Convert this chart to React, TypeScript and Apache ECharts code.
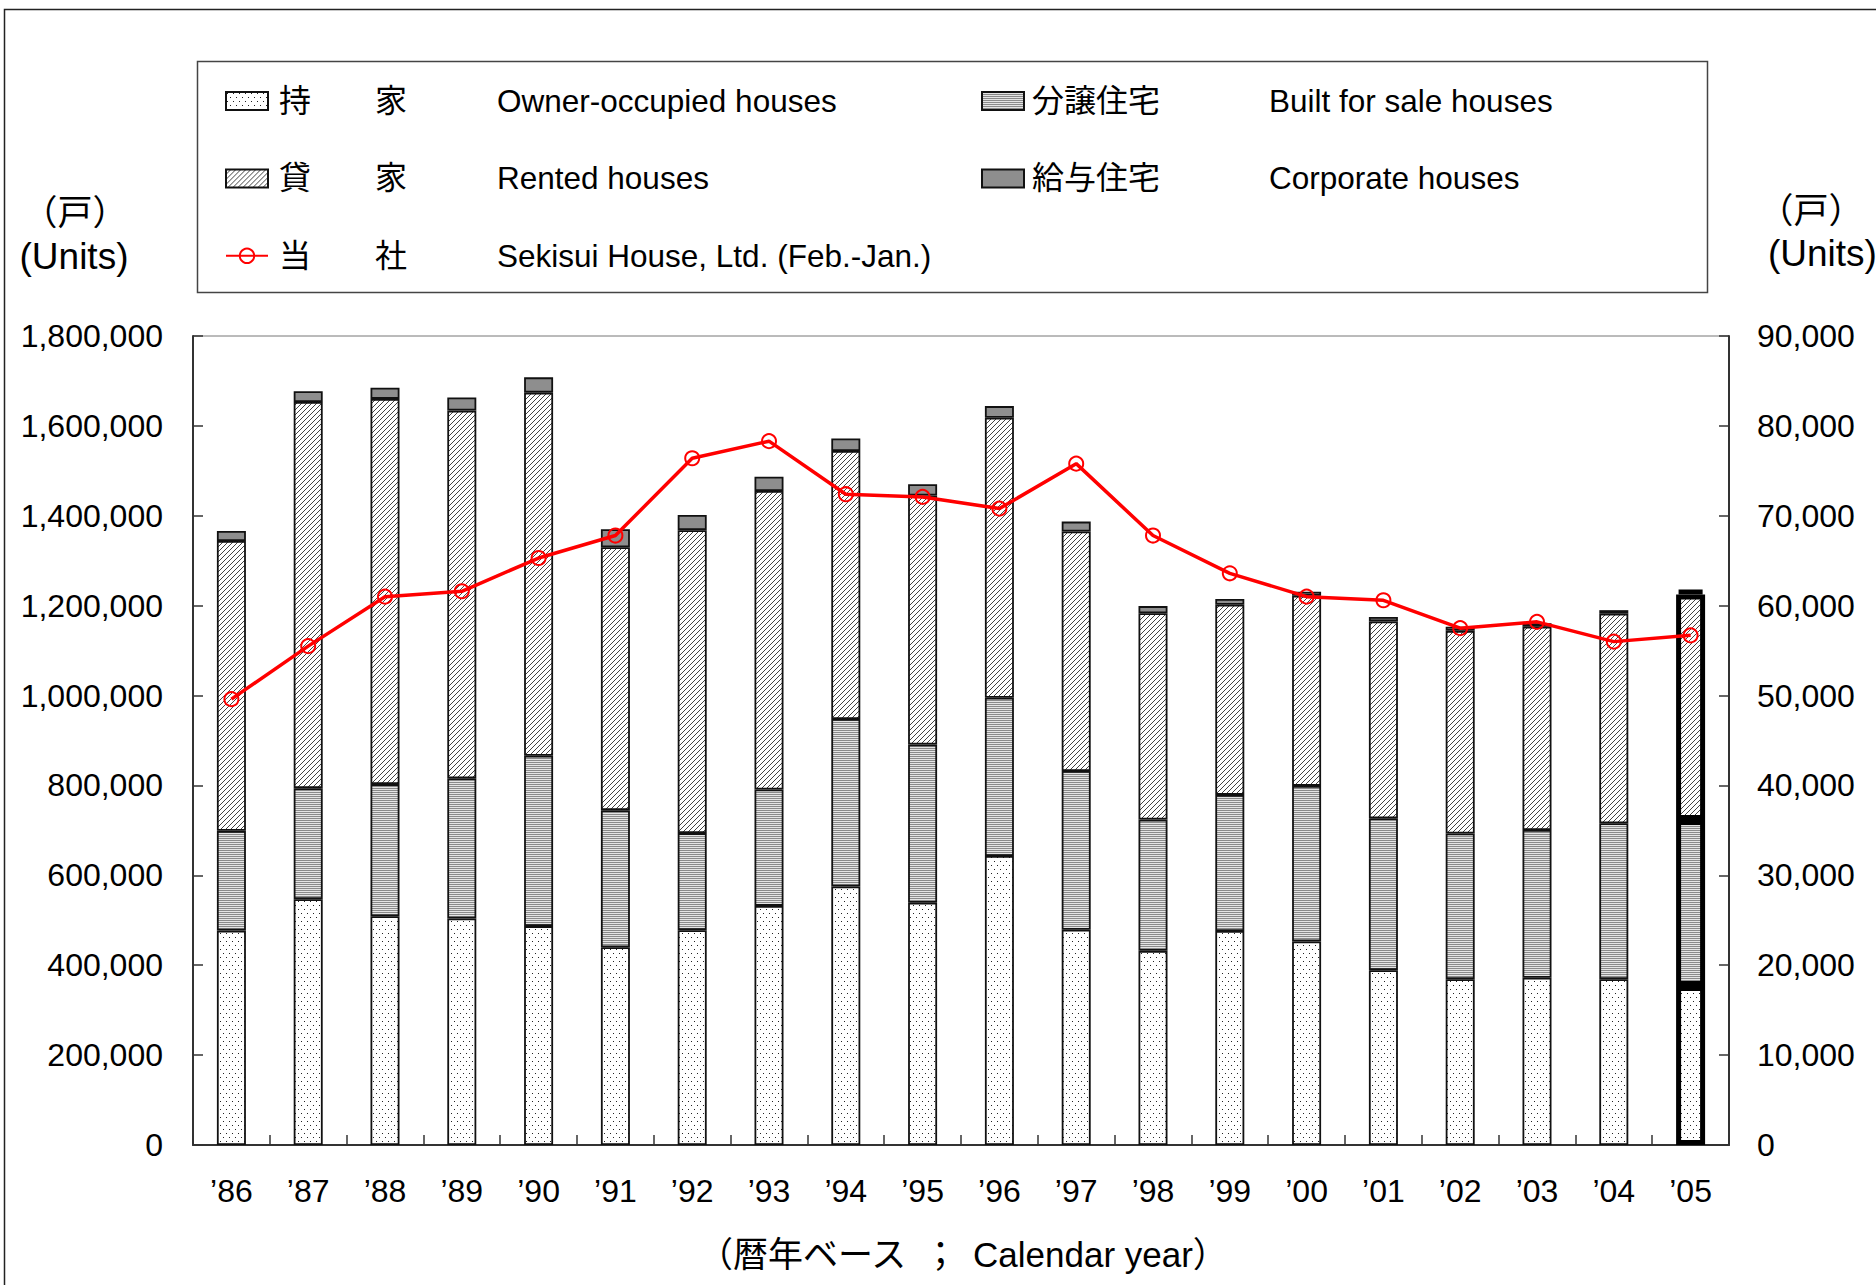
import React, { useEffect, useRef } from "react";
import * as echarts from "echarts";

const years = ["’86", "’87", "’88", "’89", "’90", "’91", "’92", "’93", "’94", "’95", "’96", "’97", "’98", "’99", "’00", "’01", "’02", "’03", "’04", "’05"];

const ownerOccupied = [477000, 547000, 509000, 504000, 487000, 440000, 478000, 532000, 575000, 539000, 643000, 479000, 432000, 476000, 453000, 389000, 369000, 372000, 369000, 354000];
const builtForSale = [222000, 247000, 294000, 312000, 379000, 305000, 216000, 259000, 373000, 352000, 352000, 353000, 292000, 303000, 346000, 338000, 324000, 329000, 347000, 369000];
const rented = [645000, 859000, 857000, 818000, 808000, 585000, 674000, 664000, 596000, 554000, 623000, 533000, 459000, 423000, 423000, 438000, 451000, 452000, 466000, 502000];
const corporate = [22000, 24000, 25000, 29000, 34000, 40000, 34000, 32000, 28000, 25000, 26000, 22000, 16000, 13000, 9000, 10000, 9000, 8000, 8000, 11000];
const sekisui = [49600, 55500, 61000, 61600, 65300, 67800, 76400, 78300, 72400, 72100, 70800, 75800, 67800, 63600, 61000, 60600, 57500, 58200, 56000, 56700];

const seriesNames = ["持家", "分譲住宅", "貸家", "給与住宅", "当社"];
const jaLabels: Record<string, string> = {
  持家: "持　　家",
  分譲住宅: "分譲住宅",
  貸家: "貸　　家",
  給与住宅: "給与住宅",
  当社: "当　　社",
};
const enLabels: Record<string, string> = {
  持家: "Owner-occupied houses",
  分譲住宅: "Built for sale houses",
  貸家: "Rented houses",
  給与住宅: "Corporate houses",
  当社: "Sekisui House, Ltd. (Feb.-Jan.)",
};

const leftTicks = { min: 0, max: 1800000, interval: 200000 };
const rightTicks = { min: 0, max: 90000, interval: 10000 };

const FONT = "'Liberation Sans', Arial, 'Noto Sans CJK JP', sans-serif";

function makePattern(w: number, h: number, draw: (ctx: CanvasRenderingContext2D) => void) {
  const c = document.createElement("canvas");
  c.width = w;
  c.height = h;
  const ctx = c.getContext("2d") as CanvasRenderingContext2D;
  ctx.fillStyle = "#ffffff";
  ctx.fillRect(0, 0, w, h);
  draw(ctx);
  return { image: c.toDataURL(), repeat: "repeat", imageWidth: w, imageHeight: h };
}

export default function App() {
  const ref = useRef<HTMLDivElement>(null);

  useEffect(() => {
    document.body.style.margin = "0";
    if (!ref.current) return;

    const dots = makePattern(6, 8, (ctx) => {
      ctx.fillStyle = "#222";
      ctx.fillRect(1, 1, 1, 1);
      ctx.fillRect(4, 5, 1, 1);
    });
    const hlines = makePattern(4, 2, (ctx) => {
      ctx.fillStyle = "#8a8a8a";
      ctx.fillRect(0, 0, 4, 1);
      ctx.fillStyle = "#e4e4e4";
      ctx.fillRect(0, 1, 4, 1);
    });
    const diag = makePattern(5, 5, (ctx) => {
      ctx.strokeStyle = "#444";
      ctx.lineWidth = 1;
      ctx.beginPath();
      ctx.moveTo(0, 5);
      ctx.lineTo(5, 0);
      ctx.moveTo(-1, 1);
      ctx.lineTo(1, -1);
      ctx.moveTo(4, 6);
      ctx.lineTo(6, 4);
      ctx.stroke();
    });

    const fills = [dots, hlines, diag, "#8e8e8e"];
    const barData = [ownerOccupied, builtForSale, rented, corporate];
    const last = years.length - 1;

    const chart = echarts.init(ref.current, null, { renderer: "svg" });

    const fmt = (v: number) => v.toLocaleString("en-US");
    const legendFormatter = (name: string) => `{a|${jaLabels[name]}}{b|${enLabels[name]}}`;

    const bars = barData.map((vals, k) => ({
      name: seriesNames[k],
      type: "bar",
      stack: "total",
      barWidth: 29,
      yAxisIndex: 0,
      itemStyle: { color: fills[k], borderColor: "#111", borderWidth: 1.8 },
      emphasis: { disabled: true },
      data: vals.map((v, i) => (i === last ? { value: v, itemStyle: { color: fills[k], borderWidth: 5, borderColor: "#000" } } : v)),
    }));

    const axisLineStyle = { color: "#333", width: 2 };
    const tickStyle = { show: true, inside: true, length: 10, lineStyle: { color: "#333", width: 1.5 } };

    const richFor = (jaWidth: number, padLeft: number) => ({
      a: { width: jaWidth, padding: [0, 0, 0, padLeft], fontSize: 32, lineHeight: 34, fontFamily: FONT, color: "#000" },
      b: { fontSize: 31.5, lineHeight: 34, fontFamily: FONT, color: "#000" },
    });

    const legendBase = {
      orient: "vertical",
      top: 85,
      padding: 0,
      itemGap: 45.4,
      itemWidth: 42,
      itemHeight: 18,
      selectedMode: false,
      formatter: legendFormatter,
    };

    const textEl = (text: string, x: number, y: number, size: number, align: string) => ({
      type: "text",
      silent: true,
      style: {
        text,
        x,
        y,
        font: `${size}px ${FONT}`,
        fill: "#000",
        align,
        verticalAlign: "middle",
        textAlign: align,
        textVerticalAlign: "middle",
      },
    });

    chart.setOption({
      animation: false,
      backgroundColor: "#ffffff",
      textStyle: { fontFamily: FONT },
      grid: {
        left: 193,
        right: 147,
        top: 336,
        bottom: 140,
        show: true,
        borderColor: "#777",
        borderWidth: 1,
        outerBoundsMode: "none",
        containLabel: false,
      },
      legend: [
        {
          ...legendBase,
          data: [{ name: "持家", icon: "rect" }, { name: "貸家", icon: "rect" }, { name: "当社" }],
          left: 225,
          textStyle: { color: "#000", fontSize: 31.5, fontFamily: FONT, rich: richFor(218, 6) },
        },
        {
          ...legendBase,
          data: [{ name: "分譲住宅", icon: "rect" }, { name: "給与住宅", icon: "rect" }],
          left: 981,
          textStyle: { color: "#000", fontSize: 31.5, fontFamily: FONT, rich: richFor(237, 3) },
        },
      ],
      xAxis: {
        type: "category",
        data: years,
        boundaryGap: true,
        axisLine: { lineStyle: axisLineStyle },
        axisTick: { ...tickStyle, alignWithLabel: false, interval: 0 },
        axisLabel: { fontSize: 32, color: "#000", margin: 30, interval: 0, fontFamily: FONT },
        splitLine: { show: false },
      },
      yAxis: [
        {
          type: "value",
          position: "left",
          ...leftTicks,
          axisLine: { show: true, lineStyle: axisLineStyle },
          axisTick: tickStyle,
          splitLine: { show: false },
          axisLabel: { fontSize: 32, color: "#000", margin: 30, fontFamily: FONT, formatter: fmt },
        },
        {
          type: "value",
          position: "right",
          ...rightTicks,
          axisLine: { show: true, lineStyle: axisLineStyle },
          axisTick: tickStyle,
          splitLine: { show: false },
          axisLabel: { fontSize: 32, color: "#000", margin: 28, fontFamily: FONT, formatter: fmt },
        },
      ],
      series: [
        ...bars,
        {
          name: "当社",
          type: "line",
          yAxisIndex: 1,
          data: sekisui,
          symbol: "circle",
          symbolSize: 14,
          z: 10,
          lineStyle: { color: "#ff0000", width: 3.5 },
          itemStyle: { color: "rgba(255,255,255,0)", borderColor: "#ff0000", borderWidth: 2 },
          emphasis: { disabled: true },
        },
      ],
      graphic: [
        {
          type: "rect",
          silent: true,
          z: -10,
          shape: { x: 4.5, y: 9.5, width: 2000, height: 2000 },
          style: { fill: "none", stroke: "#222", lineWidth: 1.5 },
        },
        {
          type: "rect",
          silent: true,
          shape: { x: 197.5, y: 61.5, width: 1510, height: 231 },
          style: { fill: "none", stroke: "#444", lineWidth: 1.5 },
        },
        textEl("（戸）", 75, 212, 35, "center"),
        textEl("(Units)", 74, 256, 37, "center"),
        textEl("（戸）", 1811, 210, 35, "center"),
        textEl("(Units)", 1768, 253, 37, "left"),
        textEl("（暦年ベース", 698, 1254, 35, "left"),
        textEl("；", 923, 1254, 35, "left"),
        textEl("Calendar year）", 973, 1254, 35, "left"),
      ],
    });

    return () => {
      chart.dispose();
    };
  }, []);

  return <div ref={ref} style={{ width: 1876, height: 1285 }} />;
}
